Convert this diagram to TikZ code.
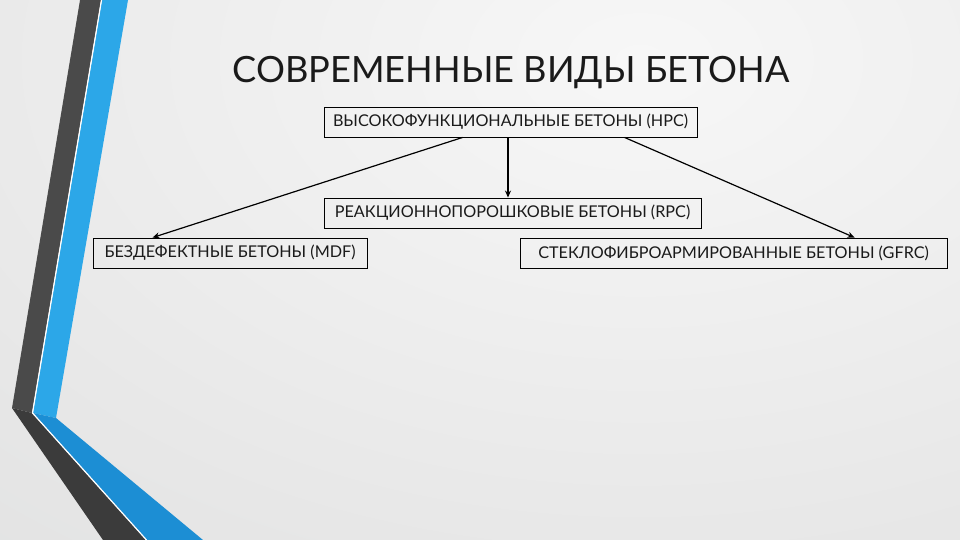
\documentclass[tikz,border=0pt]{standalone}
\usepackage{fontspec}
\setmainfont{Lato}
\usetikzlibrary{arrows.meta,calc}
\definecolor{bgA}{HTML}{F7F7F7}
\definecolor{bgB}{HTML}{E7E7E7}
\definecolor{bgC}{HTML}{DEDFDF}
\definecolor{bgD}{HTML}{C8CBCB}
\definecolor{bgE}{HTML}{BABEBF}
\definecolor{bgF}{HTML}{B4B8B9}
\definecolor{darkV}{HTML}{4A4A4A}
\definecolor{darkD}{HTML}{3B3B3B}
\definecolor{blueV}{HTML}{2CA7E8}
\definecolor{blueD}{HTML}{1C8ED4}
\definecolor{ink}{HTML}{1A1A1A}
\pgfdeclareradialshading{bgshade}{\pgfpoint{0bp}{0bp}}{color(0bp)=(bgA); color(18bp)=(bgB); color(29bp)=(bgC); color(37bp)=(bgD); color(45bp)=(bgE); color(50bp)=(bgF)}
\begin{document}
\begin{tikzpicture}[x=1pt,y=-1pt,
  box/.style={draw=black, line width=0.9pt, minimum height=30pt, inner sep=0pt, text=ink, font=\fontsize{16.2}{18}\selectfont},
  arr/.style={draw=black, line width=1.2pt, -{Stealth[length=7pt,width=6pt]}}]
\useasboundingbox (0,0) rectangle (960,540);
\begin{scope}
\clip (0,0) rectangle (960,540);
\fill[bgF] (0,0) rectangle (960,540);
\shade[shading=bgshade] (640,60) ellipse (1100 and 700);
\end{scope}
% decorative stripes
\fill[darkV] (80,0) -- (101,0) -- (32,413) -- (12,408) -- cycle;
\fill[darkD] (12,408) -- (32,413) -- (146,540) -- (103,540) -- cycle;
\fill[blueV] (102,0) -- (128,0) -- (56,418) -- (33,413) -- cycle;
\fill[blueD] (33,413) -- (56,418) -- (203,540) -- (147,540) -- cycle;
\draw[white, line width=1.2pt] (101.5,0) -- (32.5,413) -- (146.5,540);
% title
\node[anchor=base, text=ink, font=\fontsize{36.2}{42}\selectfont, inner sep=0pt] (title) at (511,83) {СОВРЕМЕННЫЕ ВИДЫ БЕТОНА};
% boxes
\node[box, minimum width=373pt] (hpc) at (510.5,122) {ВЫСОКОФУНКЦИОНАЛЬНЫЕ БЕТОНЫ (HPC)};
\node[box, minimum width=377pt] (rpc) at (512.5,213) {РЕАКЦИОННОПОРОШКОВЫЕ БЕТОНЫ (RPC)};
\node[box, minimum width=274pt] (mdf) at (230,253) {БЕЗДЕФЕКТНЫЕ БЕТОНЫ (MDF)};
\node[box, minimum width=427pt] (gfrc) at (733.5,253) {СТЕКЛОФИБРОАРМИРОВАННЫЕ БЕТОНЫ (GFRC)};
% connectors
\draw[arr] ([xshift=139pt]hpc.south west) -- ([xshift=60pt]mdf.north west);
\draw[arr] ([xshift=-2.5pt]hpc.south) -- ([xshift=-4.5pt]rpc.north);
\draw[arr] ([xshift=301pt]hpc.south west) -- ([xshift=335pt]gfrc.north west);
\end{tikzpicture}
\end{document}
